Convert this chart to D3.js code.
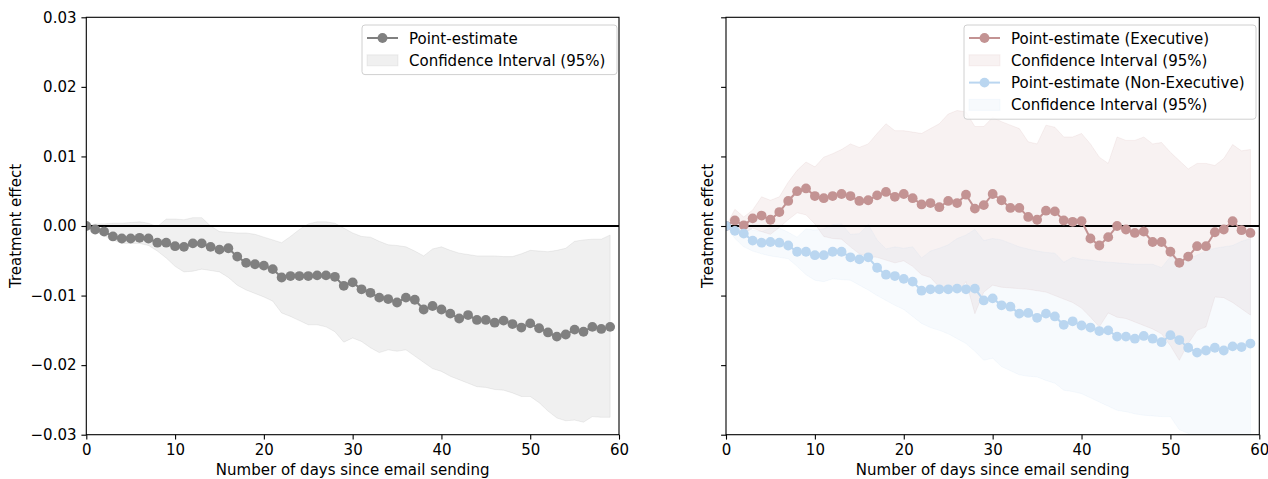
<!DOCTYPE html>
<html>
<head>
<meta charset="utf-8">
<script src="https://cdn.jsdelivr.net/npm/d3@7"></script>
<style>
  body { margin: 0; background: #fff; }
  svg { display: block; font-family: "DejaVu Sans", sans-serif; }
</style>
</head>
<body>
<div id="chart"></div>
<script>
//Days since email sending
let days = [0,1,2,3,4,5,6,7,8,9,10,11,12,13,14,15,16,17,18,19,20,21,22,23,24,25,26,27,28,29,
	30,31,32,33,34,35,36,37,38,39,40,41,42,43,44,45,46,47,48,49,50,51,52,53,54,55,56,57,58,59];

//Left panel: all users
let allPoint = [0,-0.0005,-0.0008,-0.0015,-0.0018,-0.0018,-0.0017,-0.0018,-0.0024,-0.0024,
	-0.0029,-0.003,-0.0025,-0.0025,-0.003,-0.0034,-0.0032,-0.0044,-0.0053,-0.0055,
	-0.0057,-0.0062,-0.0074,-0.0072,-0.0072,-0.0072,-0.0071,-0.0071,-0.0073,-0.0086,
	-0.0081,-0.0091,-0.0096,-0.0103,-0.0105,-0.011,-0.0103,-0.0106,-0.012,-0.0115,
	-0.012,-0.0126,-0.0133,-0.0128,-0.0135,-0.0135,-0.0139,-0.0136,-0.0141,-0.0146,
	-0.014,-0.0147,-0.0153,-0.0159,-0.0156,-0.0149,-0.0152,-0.0145,-0.0148,-0.0145];
let allUpper = [0,0.0003,0.0003,0.0004,0.0004,0.0005,0.0006,0.0004,-0.0001,0.001,
	0.001,0.0009,0.0012,0.0012,0,-0.0008,-0.0009,-0.001,-0.001,-0.0012,
	-0.0016,-0.002,-0.0024,-0.0015,-0.0005,0.0003,0.0006,0.0006,0.0004,-0.0003,
	-0.001,-0.0015,-0.0016,-0.0022,-0.0027,-0.0028,-0.003,-0.0036,-0.0043,-0.0033,
	-0.003,-0.0035,-0.0039,-0.0041,-0.0043,-0.0043,-0.0043,-0.0044,-0.0044,-0.004,
	-0.0035,-0.0036,-0.0037,-0.0035,-0.0032,-0.0022,-0.002,-0.0019,-0.0019,-0.0013];
let allLower = [0,-0.0007,-0.0014,-0.002,-0.0025,-0.0025,-0.0025,-0.0028,-0.0036,-0.0046,
	-0.0058,-0.0066,-0.0065,-0.0062,-0.0064,-0.0066,-0.0074,-0.0085,-0.0092,-0.0097,
	-0.0102,-0.0108,-0.0125,-0.013,-0.0136,-0.0142,-0.0142,-0.0145,-0.0152,-0.0167,
	-0.0161,-0.0166,-0.0175,-0.0182,-0.0178,-0.018,-0.0178,-0.0187,-0.0196,-0.0205,
	-0.0209,-0.0216,-0.0221,-0.0226,-0.0231,-0.0232,-0.0235,-0.0236,-0.024,-0.0245,
	-0.0245,-0.0254,-0.0266,-0.0276,-0.028,-0.0279,-0.0282,-0.0274,-0.0275,-0.0275];

//Right panel: executives
let execPoint = [0,0.0008,0.0001,0.0011,0.0015,0.0009,0.002,0.0036,0.005,0.0054,
	0.0043,0.004,0.0043,0.0046,0.0043,0.0036,0.0037,0.0044,0.0049,0.0042,
	0.0046,0.004,0.0031,0.0033,0.0027,0.0036,0.0033,0.0045,0.0025,0.003,
	0.0046,0.0037,0.0026,0.0026,0.0013,0.0009,0.0022,0.0021,0.0008,0.0006,
	0.0007,-0.0018,-0.0028,-0.0016,0,-0.0005,-0.001,-0.0008,-0.0023,-0.0023,
	-0.0037,-0.0053,-0.0044,-0.0029,-0.0029,-0.0009,-0.0005,0.0007,-0.0006,-0.001];
let execUpper = [0,0.0024,0.0013,0.0023,0.0042,0.0037,0.0042,0.0063,0.008,0.0092,
	0.0085,0.0099,0.0104,0.011,0.0118,0.0113,0.0118,0.0133,0.0147,0.0137,
	0.0137,0.0135,0.0133,0.014,0.0147,0.0161,0.0166,0.0164,0.0143,0.0143,
	0.0156,0.015,0.0145,0.014,0.0121,0.0118,0.0145,0.0142,0.0128,0.0128,
	0.0133,0.0118,0.0099,0.009,0.0128,0.0123,0.0123,0.0128,0.0118,0.012,
	0.0106,0.0094,0.0082,0.009,0.009,0.0087,0.0097,0.0117,0.0108,0.011];
let execLower = [0,-0.0008,-0.0011,-0.0003,-0.0008,-0.0012,-0.0002,0.0009,0.0019,0.0016,
	0.0003,-0.0015,-0.0018,-0.0019,-0.003,-0.004,-0.0044,-0.0045,-0.0049,-0.0053,
	-0.005,-0.0058,-0.007,-0.0074,-0.0088,-0.0087,-0.0095,-0.008,-0.0126,-0.0095,
	-0.0085,-0.0088,-0.0089,-0.009,-0.0091,-0.0093,-0.0095,-0.01,-0.0105,-0.011,
	-0.0118,-0.0131,-0.0145,-0.0125,-0.0131,-0.0133,-0.0138,-0.0143,-0.0148,-0.0155,
	-0.0172,-0.0193,-0.0169,-0.015,-0.0145,-0.0102,-0.0103,-0.011,-0.0119,-0.0128];

//Right panel: non-executives
let nonExecPoint = [0,-0.0007,-0.0011,-0.0021,-0.0024,-0.0023,-0.0024,-0.0028,-0.0037,-0.0037,
	-0.0042,-0.0042,-0.0037,-0.0037,-0.0045,-0.0048,-0.0045,-0.006,-0.007,-0.0072,
	-0.0076,-0.008,-0.0093,-0.0091,-0.0091,-0.0091,-0.009,-0.0091,-0.009,-0.0107,
	-0.0104,-0.0114,-0.0116,-0.0126,-0.0125,-0.0132,-0.0126,-0.013,-0.0142,-0.0137,
	-0.0143,-0.0146,-0.0151,-0.015,-0.0159,-0.0159,-0.0162,-0.0158,-0.0162,-0.0167,
	-0.0157,-0.0164,-0.0175,-0.0182,-0.0179,-0.0175,-0.0179,-0.0173,-0.0174,-0.0169];
let nonExecUpper = [0,0.0004,0.0006,-0.0006,-0.0008,-0.0003,-0.0003,-0.0009,-0.0016,-0.0004,
	-0.0006,-0.0004,0.0002,0.0003,-0.0012,-0.0011,0.0002,-0.002,-0.0033,-0.003,
	-0.0032,-0.003,-0.0046,-0.0036,-0.0032,-0.0027,-0.0018,-0.0013,-0.0005,-0.0021,
	-0.0018,-0.002,-0.0025,-0.003,-0.0033,-0.0036,-0.0038,-0.0039,-0.0052,-0.0045,
	-0.0048,-0.0049,-0.0051,-0.0052,-0.0053,-0.0054,-0.0055,-0.0055,-0.0055,-0.006,
	-0.0044,-0.0047,-0.0048,-0.0042,-0.0036,-0.0032,-0.003,-0.0028,-0.0022,-0.0018];
let nonExecLower = [0,-0.0018,-0.003,-0.0036,-0.004,-0.0043,-0.0045,-0.0047,-0.0058,-0.007,
	-0.0078,-0.008,-0.0076,-0.0077,-0.0078,-0.0085,-0.0092,-0.01,-0.0107,-0.0114,
	-0.012,-0.013,-0.014,-0.0146,-0.015,-0.0155,-0.0162,-0.0169,-0.018,-0.0193,
	-0.019,-0.0202,-0.0208,-0.0214,-0.0216,-0.0217,-0.0222,-0.0226,-0.0236,-0.0238,
	-0.0241,-0.0247,-0.0253,-0.0259,-0.0265,-0.0267,-0.027,-0.0272,-0.0273,-0.0274,
	-0.0274,-0.0293,-0.0298,-0.031,-0.032,-0.032,-0.033,-0.033,-0.033,-0.033];

//Tick values
let xTicks = [0, 10, 20, 30, 40, 50, 60];
let yTicks = [0.03, 0.02, 0.01, 0, -0.01, -0.02, -0.03];

//Colours
let grey = "#808080";
let rose = "#c39393";
let sky = "#bad6f0";

//Dimensions
let width = 1268;
let height = 479;
let plotTop = 17.3;
let plotBottom = 434.7;
let fontSize = 15;

let svg = d3.select("#chart").append("svg")
	.attr("width", width)
	.attr("height", height);

let y = d3.scaleLinear().domain([-0.03, 0.03]).range([plotBottom, plotTop]);

//Draw one set of axes, returns the x scale and the plot group
let drawAxes = function(left, right, id, showLabels){
	let x = d3.scaleLinear().domain([0, 60]).range([left, right]);

	svg.append("clipPath").attr("id", id)
		.append("rect")
			.attr("x", left).attr("y", plotTop)
			.attr("width", right - left).attr("height", plotBottom - plotTop);

	let plot = svg.append("g").attr("clip-path", "url(#" + id + ")");

	let xAxis = svg.append("g")
		.attr("transform", "translate(0," + plotBottom + ")")
		.call(d3.axisBottom(x).tickValues(xTicks).tickSizeOuter(0).tickSize(4.9).tickPadding(4.5));
	let yAxis = svg.append("g")
		.attr("transform", "translate(" + left + ",0)")
		.call(d3.axisLeft(y).tickValues(yTicks).tickSizeOuter(0).tickSize(4.9).tickPadding(4.9)
			.tickFormat(showLabels ? (d => d3.format(".2f")(d).replace("-", "\u2212")) : ""));

	[xAxis, yAxis].forEach(function(a){
		a.select(".domain").remove();
		a.selectAll("line").attr("stroke", "#000").attr("stroke-width", 1.1);
		a.selectAll("text")
			.attr("fill", "#000")
			.style("font-size", fontSize + "px")
			.style("font-family", "DejaVu Sans");
	});

	//Frame
	svg.append("rect")
		.attr("class", "frame")
		.attr("x", left).attr("y", plotTop)
		.attr("width", right - left).attr("height", plotBottom - plotTop)
		.attr("fill", "none")
		.attr("stroke", "#000")
		.attr("stroke-width", 1.1);

	//Axis labels
	svg.append("text")
		.attr("x", (left + right) / 2)
		.attr("y", 474.5)
		.attr("text-anchor", "middle")
		.style("font-size", fontSize + "px")
		.text("Number of days since email sending");

	svg.append("text")
		.attr("transform", "translate(" + (left - (showLabels ? 65 : 13.5)) + "," + ((plotTop + plotBottom) / 2) + ") rotate(-90)")
		.attr("text-anchor", "middle")
		.style("font-size", fontSize + "px")
		.text("Treatment effect");

	return {x: x, plot: plot};
}

let drawBand = function(ax, lower, upper, colour){
	let area = d3.area()
		.x((d, i) => ax.x(days[i]))
		.y0((d, i) => y(lower[i]))
		.y1((d, i) => y(upper[i]));
	ax.plot.append("path")
		.datum(days)
		.attr("d", area)
		.attr("fill", colour)
		.attr("fill-opacity", 0.12)
		.attr("stroke", colour)
		.attr("stroke-opacity", 0.12)
		.attr("stroke-width", 1);
}

let drawSeries = function(ax, values, colour){
	let line = d3.line()
		.x((d, i) => ax.x(days[i]))
		.y(d => y(d));
	ax.plot.append("path")
		.datum(values)
		.attr("d", line)
		.attr("fill", "none")
		.attr("stroke", colour)
		.attr("stroke-width", 2);
	ax.plot.selectAll(null)
		.data(values)
		.enter()
		.append("circle")
			.attr("cx", (d, i) => ax.x(days[i]))
			.attr("cy", d => y(d))
			.attr("r", 4.9)
			.attr("fill", colour);
}

let drawZero = function(ax){
	ax.plot.append("line")
		.attr("x1", ax.x(0)).attr("x2", ax.x(60))
		.attr("y1", y(0)).attr("y2", y(0))
		.attr("stroke", "#000")
		.attr("stroke-width", 2);
}

let drawLegend = function(x0, y0, w, entries){
	let rowH = 22.3;
	let g = svg.append("g");
	g.append("rect")
		.attr("x", x0).attr("y", y0)
		.attr("width", w).attr("height", entries.length * rowH + 5)
		.attr("rx", 3)
		.attr("fill", "#fff")
		.attr("fill-opacity", 0.8)
		.attr("stroke", "#d0d0d0")
		.attr("stroke-width", 1);
	entries.forEach(function(e, i){
		let cy = y0 + 13 + i * rowH;
		if(e.type == "line"){
			g.append("line")
				.attr("x1", x0 + 5).attr("x2", x0 + 36)
				.attr("y1", cy).attr("y2", cy)
				.attr("stroke", e.colour).attr("stroke-width", 2);
			g.append("circle")
				.attr("cx", x0 + 20.5).attr("cy", cy).attr("r", 4.9)
				.attr("fill", e.colour);
		}else{
			g.append("rect")
				.attr("x", x0 + 5).attr("y", cy - 5.5)
				.attr("width", 31).attr("height", 11)
				.attr("fill", e.colour).attr("fill-opacity", 0.12)
				.attr("stroke", e.colour).attr("stroke-opacity", 0.12);
		}
		g.append("text")
			.attr("x", x0 + 47)
			.attr("y", cy + 5.5)
			.style("font-size", fontSize + "px")
			.text(e.label);
	});
}

//Left panel
let leftAx = drawAxes(86.3, 619, "clipLeft", true);
drawBand(leftAx, allLower, allUpper, grey);
drawZero(leftAx);
drawSeries(leftAx, allPoint, grey);
drawLegend(362, 25, 255, [
	{type: "line", colour: grey, label: "Point-estimate"},
	{type: "band", colour: grey, label: "Confidence Interval (95%)"}
]);

//Right panel
let rightAx = drawAxes(726, 1259.3, "clipRight", false);
drawBand(rightAx, execLower, execUpper, rose);
drawBand(rightAx, nonExecLower, nonExecUpper, sky);
drawZero(rightAx);
drawSeries(rightAx, execPoint, rose);
drawSeries(rightAx, nonExecPoint, sky);
drawLegend(964, 25, 292, [
	{type: "line", colour: rose, label: "Point-estimate (Executive)"},
	{type: "band", colour: rose, label: "Confidence Interval (95%)"},
	{type: "line", colour: sky, label: "Point-estimate (Non-Executive)"},
	{type: "band", colour: sky, label: "Confidence Interval (95%)"}
]);
</script>
</body>
</html>
